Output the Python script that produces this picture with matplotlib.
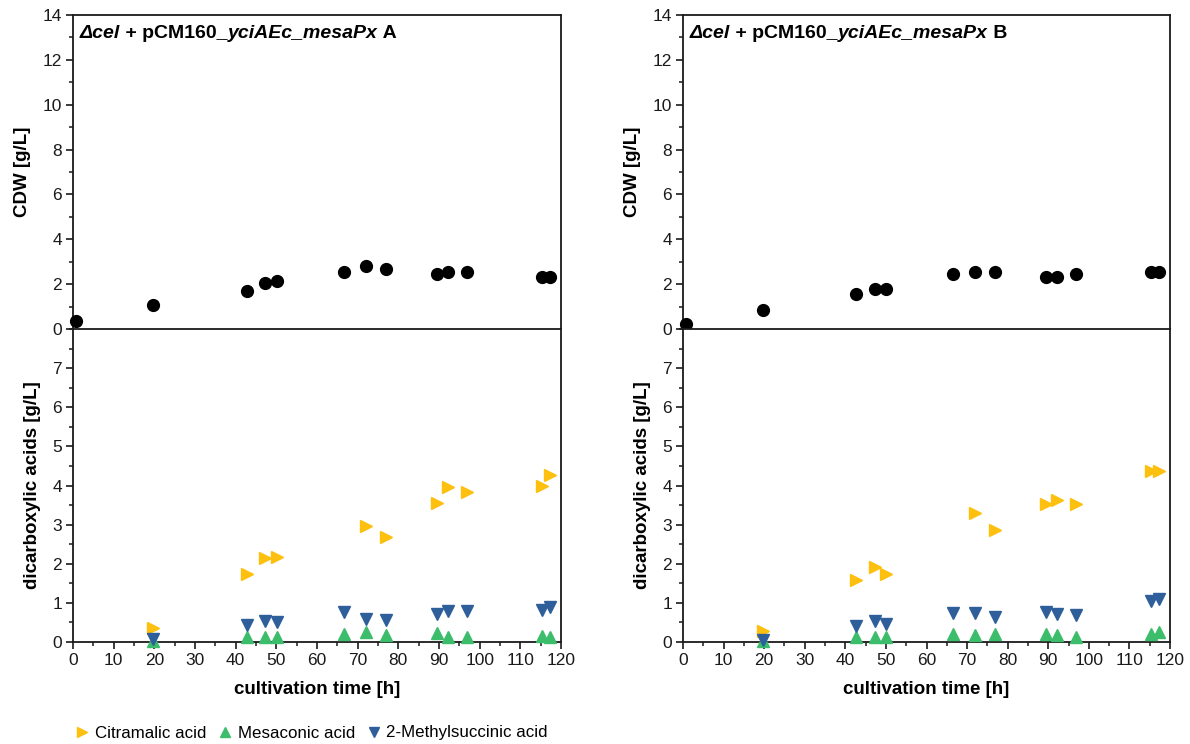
import matplotlib
matplotlib.use("Agg")
import matplotlib.pyplot as plt
from matplotlib.ticker import MultipleLocator
from matplotlib.lines import Line2D
import numpy as np

plt.rcParams['font.family'] = ['Liberation Sans', 'DejaVu Sans']

nan = np.nan

# sampling times [h]
time_h = [0.7, 19.7, 42.7, 47.3, 50.1, 66.6, 72.0, 76.9, 89.4, 92.2, 96.8, 115.4, 117.4]

# cell dry weight [g/L]
cdw_a = [0.34, 1.09, 1.71, 2.04, 2.13, 2.56, 2.80, 2.68, 2.43, 2.56, 2.56, 2.31, 2.31]
cdw_b = [0.22, 0.85, 1.55, 1.80, 1.80, 2.43, 2.55, 2.55, 2.31, 2.31, 2.43, 2.55, 2.55]

# dicarboxylic acids [g/L]
citramalic_a = [nan, 0.36, 1.74, 2.14, 2.17, nan, 2.96, 2.69, 3.55, 3.96, 3.84, 3.98, 4.28]
mesaconic_a = [nan, 0.02, 0.14, 0.14, 0.14, 0.21, 0.25, 0.18, 0.23, 0.14, 0.14, 0.16, 0.13]
methylsuccinic_a = [nan, 0.07, 0.44, 0.54, 0.51, 0.76, 0.60, 0.56, 0.72, 0.80, 0.78, 0.82, 0.89]

citramalic_b = [nan, 0.28, 1.59, 1.92, 1.75, nan, 3.30, 2.86, 3.53, 3.62, 3.53, 4.36, 4.36]
mesaconic_b = [nan, 0.02, 0.12, 0.12, 0.12, 0.21, 0.18, 0.21, 0.21, 0.18, 0.14, 0.21, 0.25]
methylsuccinic_b = [nan, 0.06, 0.42, 0.53, 0.47, 0.74, 0.75, 0.63, 0.76, 0.71, 0.70, 1.04, 1.09]

acid_names = ["Citramalic acid", "Mesaconic acid", "2-Methylsuccinic acid"]
acid_colors = ["#FDC00F", "#3CBD6C", "#2E5F9B"]
acid_markers = [">", "^", "v"]

panels = [
    ("A", cdw_a, [citramalic_a, mesaconic_a, methylsuccinic_a]),
    ("B", cdw_b, [citramalic_b, mesaconic_b, methylsuccinic_b]),
]

W, H = 1190, 744
fig = plt.figure(figsize=(W / 100, H / 100), dpi=100)

spine_color = "#1a1a1a"
tick_fs = 12.5
label_fs = 13.5


def px_rect(x0, x1, y0, y1):
    return [x0 / W, 1 - y1 / H, (x1 - x0) / W, (y1 - y0) / H]


def style_axis(ax):
    for s in ax.spines.values():
        s.set_linewidth(1.3)
        s.set_color(spine_color)
    ax.tick_params(which="major", direction="out", length=5, width=1.2,
                   labelsize=tick_fs, colors=spine_color, pad=3)
    ax.tick_params(which="minor", direction="out", length=3, width=1.1,
                   colors=spine_color)
    ax.tick_params(top=False, right=False, which="both")


def draw_title(segments, x_px, y_px):
    """Draw consecutive text pieces with different font styles."""
    renderer = fig.canvas.get_renderer()
    x = x_px
    for txt, style in segments:
        t = fig.text(x / W, 1 - y_px / H, txt, fontsize=14, fontweight="bold",
                     fontstyle=style, va="center", ha="left", color="black")
        bb = t.get_window_extent(renderer=renderer)
        x += bb.width


x_ranges = [(73, 561), (683, 1170)]
for (tag, cdw, acids), (x0, x1) in zip(panels, x_ranges):
    ax_top = fig.add_axes(px_rect(x0, x1, 15, 329))
    ax_bot = fig.add_axes(px_rect(x0, x1, 329, 642), sharex=ax_top)
    for ax in (ax_top, ax_bot):
        style_axis(ax)
        ax.set_xlim(0, 120)
        ax.xaxis.set_major_locator(MultipleLocator(10))
        ax.xaxis.set_minor_locator(MultipleLocator(5))

    # cell dry weight
    ax_top.plot(time_h, cdw, linestyle="none", marker="o", markersize=8.5,
                color="black", clip_on=False, zorder=5)
    ax_top.set_ylim(0, 14)
    ax_top.yaxis.set_major_locator(MultipleLocator(2))
    ax_top.yaxis.set_minor_locator(MultipleLocator(1))
    ax_top.tick_params(axis="x", which="both", bottom=False, labelbottom=False)
    ax_top.spines["bottom"].set_visible(False)
    ax_top.set_ylabel("CDW [g/L]", fontsize=label_fs, fontweight="bold", labelpad=8)

    # dicarboxylic acids
    for vals, name, col, mk in zip(acids, acid_names, acid_colors, acid_markers):
        ax_bot.plot(time_h, vals, linestyle="none", marker=mk, markersize=8.5,
                    color=col, label=name, clip_on=False, zorder=4)
    ax_bot.set_ylim(0, 8)
    ax_bot.set_yticks(range(0, 8))
    ax_bot.yaxis.set_minor_locator(MultipleLocator(0.5))
    ax_bot.set_xlabel("cultivation time [h]", fontsize=label_fs, fontweight="bold", labelpad=9)
    ax_bot.set_ylabel("dicarboxylic acids [g/L]", fontsize=label_fs, fontweight="bold", labelpad=8)

    draw_title([("\u0394cel", "italic"), (" + pCM160_", "normal"),
                ("yciAEc_mesaPx", "italic"), (" " + tag, "normal")],
               x0 + 7, 34)

handles = [Line2D([], [], linestyle="none", marker=mk, markersize=7.5, color=col)
           for mk, col in zip(acid_markers, acid_colors)]
fig.legend(handles, acid_names, loc="center", bbox_to_anchor=(311 / W, 1 - 733 / H),
           ncol=3, frameon=False, fontsize=12.2, handletextpad=0.25, columnspacing=0.6,
           handlelength=1.0)

fig.savefig("out.png", dpi=100)
